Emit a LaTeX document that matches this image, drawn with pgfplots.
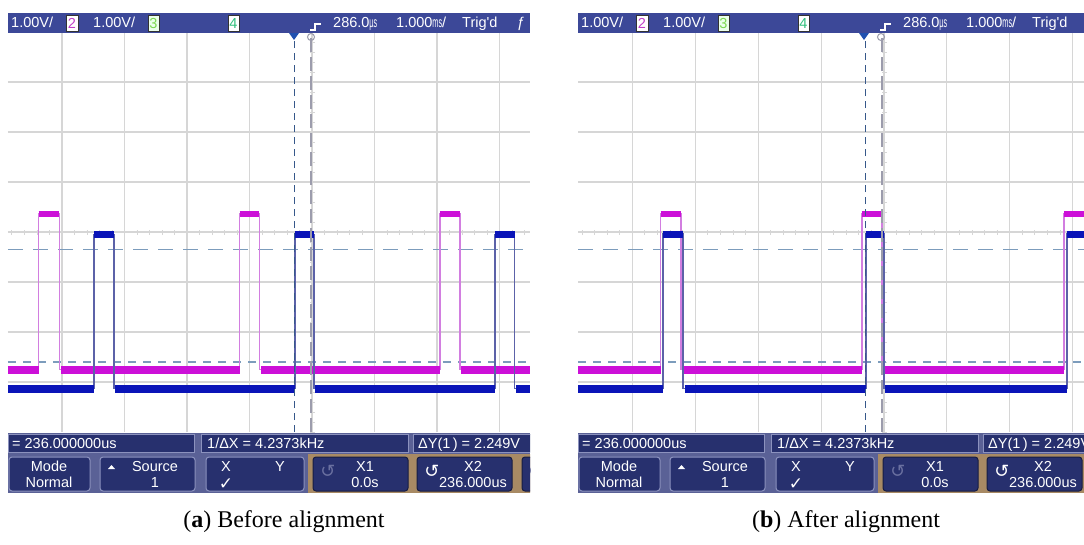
\documentclass[border=0pt]{standalone}
\usepackage{fontspec}
\setmainfont{Liberation Serif}
\newfontfamily\scopefont{Liberation Sans}
\newfontfamily\dejavu{DejaVu Sans}
\usepackage{graphicx}
\usepackage{pgfplots}
\pgfplotsset{compat=1.18}

\definecolor{topbar}{HTML}{3C4898}
\definecolor{navy}{HTML}{27306E}
\definecolor{botbg}{HTML}{5A6196}
\definecolor{edgec}{HTML}{8C92BE}
\definecolor{tanc}{HTML}{A88A64}
\definecolor{gridc}{HTML}{D6D6D6}
\definecolor{magthick}{HTML}{CC10D8}
\definecolor{magthin}{HTML}{D27EE0}
\definecolor{bluethick}{HTML}{0A14B8}
\definecolor{bluethin}{HTML}{5C62A8}
\definecolor{hcur}{HTML}{7C9CBC}
\definecolor{vcurA}{HTML}{36588A}
\definecolor{vcurB}{HTML}{9C9CAC}
\definecolor{ch2}{HTML}{C040C8}
\definecolor{ch3}{HTML}{7CD850}
\definecolor{ch4}{HTML}{30C07C}
\definecolor{curtri}{HTML}{2050B0}
\definecolor{faded}{HTML}{6A70A0}

\tikzset{
 tb/.style={anchor=base west, inner sep=0pt, text=white, font=\scopefont\fontsize{14.5}{16}\selectfont},
 bc/.style={anchor=base, inner sep=0pt, text=white, font=\scopefont\fontsize{14.5}{16}\selectfont},
 captext/.style={anchor=base, inner sep=0pt, font=\fontsize{24}{28}\selectfont},
}

\pgfplotsset{
 scopeaxis/.style={anchor=south west, scale only axis, height=400pt,
  ymin=-4, ymax=4, xtick={-4,...,3}, ytick={-3,...,3},
  xticklabels={}, yticklabels={}, grid=major,
  major grid style={draw=gridc, line width=1.1pt},
  axis line style={draw=none}, major tick length=0pt,
  unbounded coords=jump},
 magthinS/.style={magthin, line width=1.4pt},
 magLow/.style={magthick, line width=8pt},
 magHigh/.style={magthick, line width=6.5pt},
 bluthinS/.style={bluethin, line width=1.4pt},
 bluLow/.style={bluethick, line width=8pt},
 bluHigh/.style={bluethick, line width=7pt},
 hcurA/.style={hcur, line width=1.3pt, dash pattern=on 15pt off 10pt},
 hcurB/.style={hcur, line width=1.3pt, dash pattern=on 8pt off 7pt},
 vA/.style={vcurA, line width=1pt, dash pattern=on 7pt off 5pt},
 vB/.style={vcurB, line width=1.6pt, dash pattern=on 14pt off 5pt},
}

\newcommand{\chrome}[2]{%
\begin{scope}[shift={(#1,0)}]
 \fill[topbar] (0,13) rectangle (#2,33);
 \node[tb] at (3,27.5) {1.00V/};
 \filldraw[fill=white, draw=black!80, line width=0.8pt] (58,15) rectangle (70,31);
 \node[bc, text=ch2] at (64,28) {2};
 \node[tb] at (85,27.5) {1.00V/};
 \filldraw[fill=green!8, draw=black!80, line width=0.8pt] (140,15) rectangle (151,31);
 \node[bc, text=ch3] at (145.5,28) {3};
 \filldraw[fill=white, draw=black!80, line width=0.8pt] (220,15) rectangle (231,31);
 \node[bc, text=ch4] at (225.5,28) {4};
 \draw[white, line width=1.3pt] (302,30) -- (307,30) -- (307,24) -- (313,24);
 \node[tb] at (325,27.5) {286.0\scalebox{0.5}[1]{µs}};
 \node[tb] at (388,27.5) {1.000\scalebox{0.5}[1]{ms}/};
 \node[tb] at (454,27.5) {Trig'd};
 \node[tb] at (509,27.5) {ƒ};
 \fill[curtri] (281,33) -- (291,33) -- (286,40) -- cycle;
 \draw[vcurB, line width=1pt] (303,37) circle (3.5);
 % bottom bar
 \fill[botbg] (0,433) rectangle (#2,493);
 \filldraw[fill=navy, draw=edgec, line width=1pt] (0.5,434) rectangle (186,452);
 \filldraw[fill=navy, draw=edgec, line width=1pt] (193,434) rectangle (400,452);
 \filldraw[fill=navy, draw=edgec, line width=1pt] (405,434) rectangle (560,452);
 \node[tb] at (4,448) {= 236.000000us};
 \node[tb] at (199,448) {1/ΔX = 4.2373kHz};
 \node[tb] at (410,448) {ΔY(1\,) = 2.249V};
 \fill[tanc] (300,454) rectangle (560,493);
 \filldraw[fill=navy, draw=edgec, line width=1pt, rounded corners=3pt] (1,457) rectangle (82,491);
 \filldraw[fill=navy, draw=edgec, line width=1pt, rounded corners=3pt] (92,457) rectangle (187,491);
 \filldraw[fill=navy, draw=edgec, line width=1pt, rounded corners=3pt] (198,457) rectangle (296,491);
 \filldraw[fill=navy, draw=navy!60!black, line width=1pt, rounded corners=3pt] (305,457) rectangle (400,491);
 \filldraw[fill=navy, draw=navy!60!black, line width=1pt, rounded corners=3pt] (409,457) rectangle (504,491);
 \filldraw[fill=navy, draw=navy!60!black, line width=1pt, rounded corners=3pt] (514,457) rectangle (560,491);
 \node[bc] at (41,471.5) {Mode};
 \node[bc] at (41,487.5) {Normal};
 \fill[white] (100,469) -- (107,469) -- (103.5,465) -- cycle;
 \node[bc] at (147,471.5) {Source};
 \node[bc] at (147,487.5) {1};
 \node[bc] at (218,471.5) {X};
 \node[bc] at (272,471.5) {Y};
 \node[bc, font=\dejavu\fontsize{17}{17}\selectfont] at (218,489) {✓};
 \node[bc, text=faded, font=\dejavu\fontsize{18}{18}\selectfont] at (320,477) {↺};
 \node[bc] at (357,471.5) {X1};
 \node[bc] at (357,487.5) {0.0s};
 \node[bc, font=\dejavu\fontsize{18}{18}\selectfont] at (424,477) {↺};
 \node[bc] at (465,471.5) {X2};
 \node[bc] at (465,487.5) {236.000us};
 \node[bc, text=faded, font=\dejavu\fontsize{18}{18}\selectfont] at (528,477) {↺};
\end{scope}}

\begin{document}
\begin{tikzpicture}
\useasboundingbox (0pt,0pt) rectangle (1084pt,-544pt);
\fill[white] (0pt,0pt) rectangle (1084pt,-544pt);

% ---------------- left panel: before alignment ----------------
\begin{axis}[scopeaxis, at={(8pt,-432pt)}, width=522pt, xmin=-4.864, xmax=3.488]
 \addplot[gridc, line width=5pt, dash pattern=on 1pt off 11.5pt, dash phase=9pt] coordinates {(-4.864,0) (3.488,0)};
 \addplot[gridc, line width=5pt, dash pattern=on 1pt off 9pt, dash phase=0.5pt] coordinates {(0,-4) (0,4)};
 \addplot[hcurA] coordinates {(-4.864,-0.35) (3.488,-0.35)};
 \addplot[hcurB] coordinates {(-4.864,-2.6) (3.488,-2.6)};
 % channel 2 (magenta)
 \addplot[magthinS] coordinates {(-4.864,-2.75) (-4.374,-2.75) (-4.374,0.36) (-4.043,0.36) (-4.043,-2.75) (-1.157,-2.75) (-1.157,0.36) (-0.843,0.36) (-0.843,-2.75) (2.045,-2.75) (2.045,0.36) (2.365,0.36) (2.365,-2.75) (3.488,-2.75)};
 \addplot[magLow] coordinates {(-4.864,-2.75) (-4.374,-2.75) (-4.3,nan) (-4.02,-2.75) (-1.157,-2.75) (-1,nan) (-0.82,-2.75) (2.045,-2.75) (2.2,nan) (2.39,-2.75) (3.488,-2.75)};
 \addplot[magHigh] coordinates {(-4.374,0.36) (-4.043,0.36) (-4.2,nan) (-1.157,0.36) (-0.843,0.36) (0,nan) (2.045,0.36) (2.365,0.36)};
 % channel 1 (blue)
 \addplot[bluthinS] coordinates {(-4.864,-3.13) (-3.486,-3.13) (-3.486,-0.05) (-3.171,-0.05) (-3.171,-3.13) (-0.275,-3.13) (-0.275,-0.05) (0.029,-0.05) (0.029,-3.13) (2.925,-3.13) (2.925,-0.05) (3.240,-0.05) (3.240,-3.13) (3.488,-3.13)};
 \addplot[bluLow] coordinates {(-4.864,-3.13) (-3.486,-3.13) (-3.3,nan) (-3.15,-3.13) (-0.275,-3.13) (-0.1,nan) (0.05,-3.13) (2.925,-3.13) (3.0,nan) (3.26,-3.13) (3.488,-3.13)};
 \addplot[bluHigh] coordinates {(-3.486,-0.05) (-3.171,-0.05) (-3.3,nan) (-0.275,-0.05) (0.029,-0.05) (0.1,nan) (2.925,-0.05) (3.240,-0.05)};
 % cursors
 \addplot[vA] coordinates {(-0.288,-4) (-0.288,4)};
 \addplot[vB] coordinates {(-0.016,-4) (-0.016,4)};
\end{axis}

% ---------------- right panel: after alignment ----------------
\begin{axis}[scopeaxis, at={(578pt,-432pt)}, width=506pt, xmin=-4.865, xmax=3.18]
 \addplot[gridc, line width=5pt, dash pattern=on 1pt off 11.58pt, dash phase=9pt] coordinates {(-4.865,0) (3.18,0)};
 \addplot[gridc, line width=5pt, dash pattern=on 1pt off 9pt, dash phase=0.5pt] coordinates {(0,-4) (0,4)};
 \addplot[hcurA] coordinates {(-4.865,-0.35) (3.18,-0.35)};
 \addplot[hcurB] coordinates {(-4.865,-2.6) (3.18,-2.6)};
 % channel 2 (magenta)
 \addplot[magthinS] coordinates {(-4.865,-2.75) (-3.55,-2.75) (-3.55,0.36) (-3.227,0.36) (-3.227,-2.75) (-0.35,-2.75) (-0.35,0.36) (-0.032,0.36) (-0.032,-2.75) (2.86,-2.75) (2.86,0.36) (3.18,0.36)};
 \addplot[magLow] coordinates {(-4.865,-2.75) (-3.55,-2.75) (-3.4,nan) (-3.2,-2.75) (-0.35,-2.75) (-0.2,nan) (-0.01,-2.75) (2.86,-2.75)};
 \addplot[magHigh] coordinates {(-3.55,0.36) (-3.227,0.36) (-3.4,nan) (-0.35,0.36) (-0.032,0.36) (1,nan) (2.86,0.36) (3.18,0.36)};
 % channel 1 (blue)
 \addplot[bluthinS] coordinates {(-4.865,-3.13) (-3.514,-3.13) (-3.514,-0.04) (-3.196,-0.04) (-3.196,-3.13) (-0.286,-3.13) (-0.286,-0.04) (0.0,-0.04) (0.0,-3.13) (2.909,-3.13) (2.909,-0.04) (3.18,-0.04)};
 \addplot[bluLow] coordinates {(-4.865,-3.13) (-3.514,-3.13) (-3.4,nan) (-3.17,-3.13) (-0.286,-3.13) (-0.1,nan) (0.02,-3.13) (2.909,-3.13)};
 \addplot[bluHigh] coordinates {(-3.514,-0.04) (-3.196,-0.04) (-3.4,nan) (-0.286,-0.04) (0.0,-0.04) (1,nan) (2.909,-0.04) (3.18,-0.04)};
 % cursors
 \addplot[vA] coordinates {(-0.302,-4) (-0.302,4)};
 \addplot[vB] coordinates {(-0.032,-4) (-0.032,4)};
\end{axis}

\begin{scope}[x=1pt, y=-1pt]
 \begin{scope}
  \clip (8,0) rectangle (530,544);
  \chrome{8}{522}
 \end{scope}
 \begin{scope}
  \clip (578,0) rectangle (1084,544);
  \chrome{578}{520}
 \end{scope}
 \node[captext] at (284,527) {(\textbf{a}) Before alignment};
 \node[captext] at (846,527) {(\textbf{b}) After alignment};
\end{scope}
\end{tikzpicture}
\end{document}
